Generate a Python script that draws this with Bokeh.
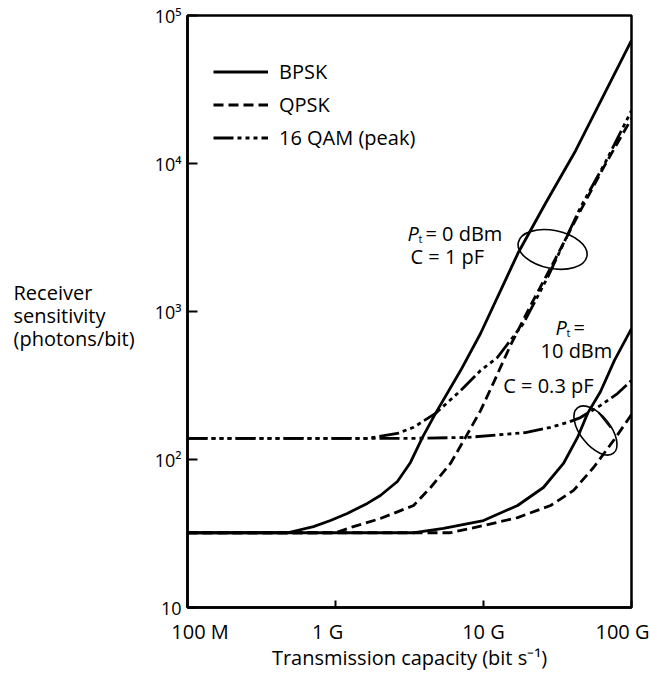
from bokeh.plotting import figure
from bokeh.layouts import row
from bokeh.models import (Range1d, FixedTicker, Legend, LegendItem, Label)
from bokeh.core.properties import value
from bokeh.embed import file_html
from bokeh.resources import INLINE

# ---------------- data ----------------
# x: transmission capacity (bit/s), y: receiver sensitivity (photons/bit)
bpsk_0dBm_x = [1e8, 4.74e8, 7.1e8, 9.25e8, 1.2e9, 1.64e9, 2.01e9, 2.62e9, 3.21e9,
               3.87e9, 4.74e9, 7.0e9, 9.55e9, 1.72e10, 2.62e10, 4.19e10, 1e11]
bpsk_0dBm_y = [32, 32, 35.2, 38.7, 43.2, 50.5, 57.1, 71.0, 95.5,
               141, 205, 399, 710, 2506, 5370, 1.22e4, 6.78e4]

qpsk_0dBm_x = [1e8, 1e9, 1.32e9, 2.01e9, 3.37e9, 4.39e9, 5.98e9, 7.56e9, 9.55e9,
               1.17e10, 1.52e10, 2.08e10, 3.02e10, 4.52e10, 6.58e10, 1e11]
qpsk_0dBm_y = [32, 32, 35.2, 39.9, 48.9, 64.7, 94.0, 141, 214,
               331, 589, 1099, 2213, 4808, 9680, 2.01e4]

qam_0dBm_x = [1e8, 1.64e9, 2.62e9, 3.37e9, 4.74e9, 7.0e9, 9.55e9, 1.24e10,
              1.86e10, 2.71e10, 4.52e10, 6.67e10, 1e11]
qam_0dBm_y = [139, 139, 150, 165, 205, 292, 399, 489,
              830, 1698, 5050, 1.02e4, 2.28e4]

bpsk_10dBm_x = [1e8, 3.42e9, 5.37e9, 1e10, 1.7e10, 2.54e10, 3.47e10, 4.32e10,
                5.05e10, 6.18e10, 7.67e10, 1e11]
bpsk_10dBm_y = [32, 32, 34.2, 38.7, 48.9, 64.7, 94, 141, 205, 288, 467, 767]

qpsk_10dBm_x = [1e8, 5.98e9, 1e10, 1.7e10, 2.84e10, 4.06e10, 5.54e10, 7.55e10, 1e11]
qpsk_10dBm_y = [32, 32, 35.8, 40.5, 48.9, 61.8, 88.3, 134, 201]

qam_10dBm_x = [1e8, 3.42e9, 7.8e9, 1.92e10, 2.84e10, 3.7e10, 4.52e10, 6.18e10,
               8.04e10, 1e11]
qam_10dBm_y = [139, 139, 141, 152, 165, 178, 192, 232, 279, 342]

x_ticks = [1e8, 1e9, 1e10, 1e11]
x_tick_labels = ["100 M", "1 G", "10 G", "100 G"]
y_ticks = [10, 100, 1000, 10000, 100000]
y_tick_labels = ["10", "10\u00b2", "10\u00b3", "10\u2074", "10\u2075"]

series_names = ["BPSK", "QPSK", "16 QAM (peak)"]
x_title = "Transmission capacity (bit s\u207b\u00b9)"
y_title_lines = ["Receiver", "sensitivity", "(photons/bit)"]

# ---------------- styles ----------------
FONT = "Open Sans"
FS = "20px"
LW = 2.8
DASH_QPSK = "10 5"
DASH_QAM = "20 4 4 4 4 4 4 4"
NB = "\u00a0"
x_label_pad = [(4, 0), (0, 3), (0, 0), (0, 0)]   # nudges via non-breaking spaces

TOTAL_H = 667
LEFT_W = 150

p = figure(x_axis_type="log", y_axis_type="log",
           x_range=Range1d(1e8, 1e11), y_range=Range1d(10, 1e5),
           frame_width=444, frame_height=592,
           min_border_left=187 - LEFT_W, min_border_right=18,
           min_border_top=15, min_border_bottom=TOTAL_H - 15 - 592,
           output_backend="svg", toolbar_location=None)

p.xgrid.visible = False
p.ygrid.visible = False
p.outline_line_color = "black"
p.outline_line_width = 2.5
p.outline_line_alpha = 1.0
p.background_fill_color = "white"
p.border_fill_color = "white"

# y axis
p.yaxis.ticker = FixedTicker(ticks=y_ticks, minor_ticks=[])
p.yaxis.major_label_overrides = dict(zip(y_ticks, y_tick_labels))
p.yaxis.major_tick_in = 10
p.yaxis.major_tick_out = 0
p.yaxis.major_tick_line_width = 2
p.yaxis.minor_tick_line_color = None
p.yaxis.axis_line_width = 2.5
p.yaxis.major_label_standoff = 6
p.yaxis.major_label_text_font = FONT
p.yaxis.major_label_text_font_size = "18px"
p.yaxis.major_label_text_color = "black"

# x axis
p.xaxis.ticker = FixedTicker(ticks=x_ticks, minor_ticks=[])
p.xaxis.major_label_overrides = {
    t: NB * a + lab + NB * b for t, lab, (a, b) in zip(x_ticks, x_tick_labels, x_label_pad)}
p.xaxis.major_tick_in = 7
p.xaxis.major_tick_out = 0
p.xaxis.major_tick_line_width = 2
p.xaxis.minor_tick_line_color = None
p.xaxis.axis_line_width = 2.5
p.xaxis.major_label_standoff = 10
p.xaxis.major_label_text_font = FONT
p.xaxis.major_label_text_font_size = FS
p.xaxis.major_label_text_color = "black"
p.xaxis.axis_label = x_title
p.xaxis.axis_label_standoff = -4
p.xaxis.axis_label_text_font = FONT
p.xaxis.axis_label_text_font_size = FS
p.xaxis.axis_label_text_font_style = "normal"
p.xaxis.axis_label_text_color = "black"

# curves
r_qam0 = p.line(qam_0dBm_x, qam_0dBm_y, line_width=LW, color="black",
                line_dash=DASH_QAM, line_join="round")
r_qam10 = p.line(qam_10dBm_x, qam_10dBm_y, line_width=LW, color="black",
                 line_dash=DASH_QAM, line_join="round")
r_qpsk0 = p.line(qpsk_0dBm_x, qpsk_0dBm_y, line_width=LW, color="black",
                 line_dash=DASH_QPSK, line_join="round")
r_qpsk10 = p.line(qpsk_10dBm_x, qpsk_10dBm_y, line_width=LW, color="black",
                  line_dash=DASH_QPSK, line_join="round")
r_bpsk0 = p.line(bpsk_0dBm_x, bpsk_0dBm_y, line_width=LW, color="black",
                 line_join="round")
r_bpsk10 = p.line(bpsk_10dBm_x, bpsk_10dBm_y, line_width=LW, color="black",
                  line_join="round")

# annotation ellipses grouping the curve families
p.ellipse(x=[2.93e10], y=[2626], width=[70], height=[38], angle=[-0.2],
          width_units="screen", height_units="screen",
          fill_color=None, line_color="black", line_width=1.6)
p.ellipse(x=[5.71e10], y=[157], width=[58], height=[30], angle=[-0.9],
          width_units="screen", height_units="screen",
          fill_color=None, line_color="black", line_width=1.6)
p.segment(x0=[5.98e10], y0=[208], x1=[7.21e10], y1=[164],
          line_color="black", line_width=1.5)

# legend
legend = Legend(items=[LegendItem(label=series_names[0], renderers=[r_bpsk0]),
                       LegendItem(label=series_names[1], renderers=[r_qpsk0]),
                       LegendItem(label=series_names[2], renderers=[r_qam0])],
                location=(26, 456), glyph_width=55, glyph_height=25,
                label_height=25, spacing=6, padding=0, margin=0,
                label_standoff=11, background_fill_alpha=0,
                border_line_alpha=0, label_text_font=FONT,
                label_text_font_size=FS, label_text_color="black")
p.add_layout(legend)

# family annotations
def note(x, y, text, dx=0, dy=0, italic=False, size=FS):
    p.add_layout(Label(x=x, y=y, x_offset=dx, y_offset=dy, text=text,
                       text_align="left", text_baseline="middle",
                       text_font=FONT, text_font_size=size,
                       text_font_style="italic" if italic else "normal",
                       text_color="black"))

note(3.06e9, 3365, "P", italic=True)
note(3.06e9, 3365, "t", dx=11, dy=-5, size="11px")
note(3.06e9, 3365, "= 0 dBm", dx=18)
note(3.21e9, 2355, "C = 1 pF")

note(3.06e10, 780, "P", italic=True)
note(3.06e10, 780, "t", dx=11, dy=-5, size="11px")
note(3.06e10, 780, "=", dx=18)
note(2.43e10, 545, "10 dBm")
note(1.36e10, 316, "C = 0.3 pF")

# left panel holding the horizontal, three-line y-axis title
q = figure(frame_width=LEFT_W, frame_height=TOTAL_H,
           x_range=Range1d(0, LEFT_W), y_range=Range1d(TOTAL_H, 0),
           min_border=0, min_border_left=0, min_border_right=0,
           min_border_top=0, min_border_bottom=0,
           x_axis_location=None, y_axis_location=None,
           output_backend="svg", toolbar_location=None)
q.xgrid.visible = False
q.ygrid.visible = False
q.outline_line_color = None
q.background_fill_color = "white"
q.border_fill_color = "white"
q.text(x=[13, 13, 13], y=[277, 300, 323], text=y_title_lines,
       text_font=value(FONT), text_font_size=FS, text_color="black",
       text_align="left", text_baseline="middle")

layout = row(q, p, spacing=0)
open("out.html", "w").write(file_html(layout, INLINE))
